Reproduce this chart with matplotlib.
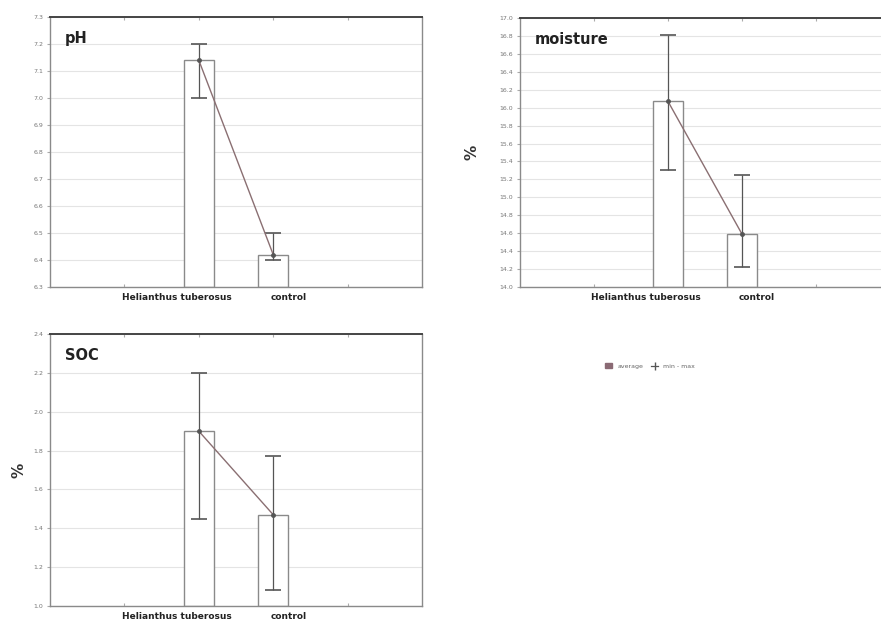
import numpy as np
import matplotlib
matplotlib.use("Agg")
import matplotlib.pyplot as plt
from matplotlib.transforms import ScaledTranslation
from matplotlib.lines import Line2D
from matplotlib.patches import Patch

groups = ['Helianthus tuberosus', 'control']
xpos = [2, 3]

ph_mean = [7.14, 6.42]
ph_min = [7.00, 6.40]
ph_max = [7.20, 6.50]
ph_ticks = [6.3, 6.4, 6.5, 6.6, 6.7, 6.8, 6.9, 7.0, 7.1, 7.2, 7.3]

moist_mean = [16.07, 14.59]
moist_min = [15.31, 14.22]
moist_max = [16.81, 15.25]
moist_ticks = [14.0, 14.2, 14.4, 14.6, 14.8, 15.0, 15.2, 15.4, 15.6, 15.8,
               16.0, 16.2, 16.4, 16.6, 16.8, 17.0]

soc_mean = [1.90, 1.47]
soc_min = [1.45, 1.08]
soc_max = [2.20, 1.77]
soc_ticks = [1.0, 1.2, 1.4, 1.6, 1.8, 2.0, 2.2, 2.4]

W, H = 881, 622
fig = plt.figure(figsize=(W / 100, H / 100), dpi=100)


def px_axes(l, t, r, b):
    return fig.add_axes([l / W, 1 - b / H, (r - l) / W, (b - t) / H])


def panel(ax, mean, lo, hi, ticks, title, ylabel=None, lpad=10):
    mean = np.array(mean)
    err = [mean - np.array(lo), np.array(hi) - mean]
    ax.set_xlim(0, 5)
    ax.set_ylim(ticks[0], ticks[-1])
    ax.set_yticks(ticks)
    ax.set_yticklabels(['%.1f' % t for t in ticks], fontsize=4.5, color='#777777')
    ax.grid(axis='y', color='#e4e4e4', lw=0.8)
    ax.set_axisbelow(True)
    ax.bar(xpos, mean - ticks[0], bottom=ticks[0], width=0.4, color='white',
           edgecolor='#8a8a8a', lw=1.0, zorder=2)
    ax.errorbar(xpos, mean, yerr=err, fmt='none', ecolor='#555555',
                elinewidth=0.9, capsize=6, capthick=1.2, zorder=3)
    ax.plot(xpos, mean, color='#8a6f72', lw=1.0, marker='o', ms=2.5,
            mfc='#555555', mec='#555555', zorder=4)
    ax.set_xticks([1, 2, 3, 4])
    ax.set_xticklabels(['', groups[0], groups[1], ''], fontsize=6.5,
                       fontweight='bold', color='#222222')
    ax.tick_params(axis='x', length=2, direction='in', top=True, pad=4,
                   color='#aaaaaa')
    ax.tick_params(axis='y', length=2, color='#aaaaaa', pad=3)
    offs = [-22, 15]
    labs = ax.get_xticklabels()
    for lab, dx in zip(labs[1:3], offs):
        lab.set_transform(lab.get_transform() +
                          ScaledTranslation(dx / 100, 0, fig.dpi_scale_trans))
    for s in ax.spines.values():
        s.set_color('#8a8a8a')
        s.set_linewidth(1.0)
    ax.spines['top'].set_color('#444444')
    ax.spines['top'].set_linewidth(1.4)
    ax.text(0.04, 0.92, title, transform=ax.transAxes, fontsize=10.5,
            fontweight='bold', color='#222222', va='center', ha='left')
    if ylabel:
        ax.set_ylabel(ylabel, fontsize=11, fontweight='bold', labelpad=lpad,
                      color='#333333')


ax1 = px_axes(50, 17, 422, 287)
panel(ax1, ph_mean, ph_min, ph_max, ph_ticks, 'pH')

ax2 = px_axes(520, 18, 890, 287)
panel(ax2, moist_mean, moist_min, moist_max, moist_ticks, 'moisture', '%', 14)

ax3 = px_axes(50, 334, 422, 606)
panel(ax3, soc_mean, soc_min, soc_max, soc_ticks, 'SOC', '%', 5)

handles = [Patch(facecolor='#8a6a74', edgecolor='#8a6a74'),
           Line2D([0], [0], color='#555555', lw=0.9, marker='|', ms=6)]
fig.legend(handles, ['average', 'min - max'], loc='center',
           bbox_to_anchor=(650 / W, 1 - 366 / H), ncol=2, frameon=False,
           fontsize=4.5, handlelength=1.2, columnspacing=1.2,
           labelcolor='#666666')

fig.savefig('out.png', dpi=100)
